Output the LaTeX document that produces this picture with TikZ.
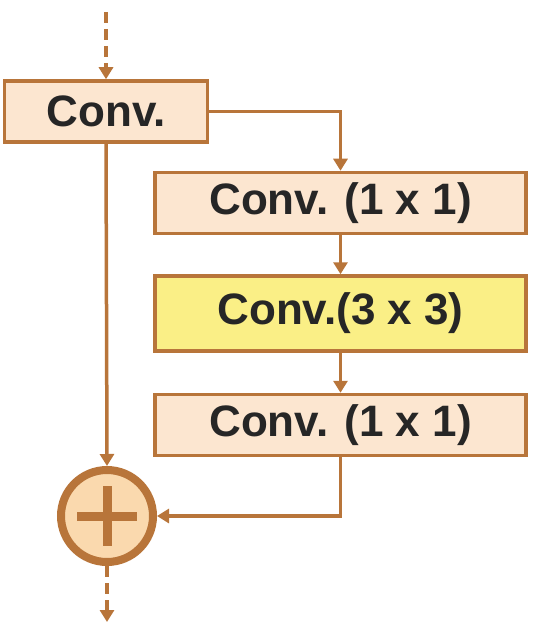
\documentclass[tikz,border=0pt]{standalone}
\usepackage{fontspec}
\setmainfont{Liberation Sans}
\usetikzlibrary{arrows.meta}
\definecolor{brn}{HTML}{B8753A}
\definecolor{peach}{HTML}{FCE6D0}
\definecolor{yel}{HTML}{FAEF86}
\definecolor{ring}{HTML}{FAD9AE}
\begin{document}
\begin{tikzpicture}[x=1pt,y=-1pt,
  box/.style={draw=brn,line width=3.5pt,fill=peach,minimum height=61pt,inner sep=0pt,
    font=\fontsize{44}{50}\selectfont\bfseries,text=black!85},
  conn/.style={draw=brn,line width=3.5pt,-{Triangle[width=14pt,length=12pt]}},
  dconn/.style={conn,dash pattern=on 11pt off 6pt}]
\useasboundingbox (0,0) rectangle (533,644);
\node[box,minimum width=203pt] (c0) at (106,111.5) {Conv.};
\node[box,minimum width=371pt] (c1) at (340.5,203) {Conv. (1 x 1)};
\node[box,minimum width=371pt,fill=yel,minimum height=75pt] (c2) at (340.5,313.5) {Conv.(3 x 3)};
\node[box,minimum width=371pt] (c3) at (340.5,425) {Conv. (1 x 1)};
\node[circle,draw=brn,line width=8pt,fill=ring,minimum size=92pt,inner sep=0pt] (add) at (107,516) {};
\draw[brn,line width=9pt] (add.center) ++(-30,0) -- ++(60,0);
\draw[brn,line width=9pt] (add.center) ++(0,-30) -- ++(0,60);
\coordinate (top) at (106,12);
\coordinate (bot) at (107,622);
\draw[dconn] (top) -- (c0.north);
\draw[conn] (c0.east) -| (c1.north);
\draw[conn] (c1) -- (c2);
\draw[conn] (c2) -- (c3);
\draw[conn] (c0.south) -- (add.north);
\draw[conn] (c3.south) |- (add.east);
\draw[dconn] (add.south) -- (bot);
\end{tikzpicture}
\end{document}
